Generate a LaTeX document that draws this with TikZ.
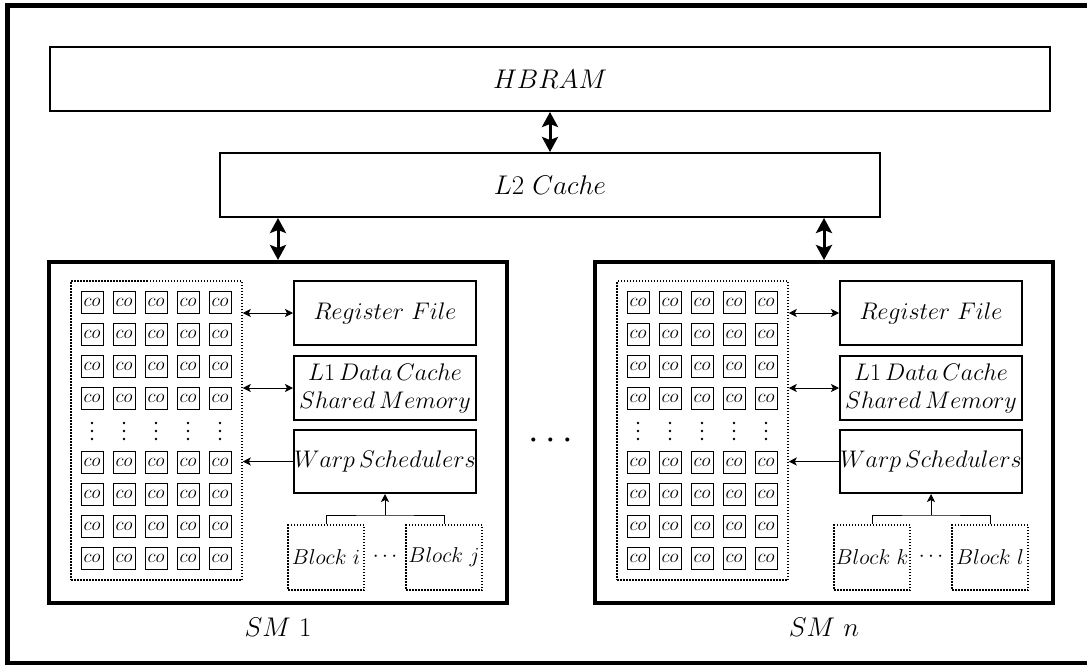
\RequirePackage{fix-cm}
\documentclass[tikz,border=0pt]{standalone}
\usetikzlibrary{arrows.meta}

% One streaming multiprocessor: #1 name prefix, #2/#3 block labels, #4 caption
\newcommand\smunit[4]{%
  \node[smbox, minimum width=458pt, minimum height=341pt] (#1box) at (278,432.5) {};
  \node[dotbox, minimum width=171pt, minimum height=299pt] (#1cores) at (156.5,430.5) {};
  \foreach \c in {0,...,4} {
    \foreach \y in {302,334,366,398,462,494,526,558}
      \node[core] (#1co-\c-\y) at ({92+32*\c},\y) {$co$};
    \foreach \d in {-8,0,8}
      \fill ({92+32*\c},{431+\d}) circle (1.4pt);
  }
  \node[unitbox, minimum height=64pt] (#1reg) at (385,313) {$Register\ File$};
  \node[unitbox, minimum height=64pt] (#1l1) at (385,388) {$L1\,Data\,Cache$\\[-2pt]$Shared\,Memory$};
  \node[unitbox, minimum height=63pt] (#1warp) at (385,461.5) {$Warp\,Schedulers$};
  \draw[linkarrow, <->] (#1cores.east |- #1reg) -- (#1reg.west);
  \draw[linkarrow, <->] (#1cores.east |- #1l1) -- (#1l1.west);
  \draw[linkarrow, ->] (#1warp.west) -- (#1cores.east |- #1warp);
  \node[blockbox] (#1bl) at (326,557.5) {$#2$};
  \node[blockbox] (#1br) at (444,557.5) {$#3$};
  \node[font=\fontsize{21}{24}\selectfont, inner sep=0pt] (#1bdots) at (385,557) {$\cdots$};
  \coordinate (#1fork) at (385,515);
  \draw[line width=1pt] (#1bl.north) |- (#1fork) -| (#1br.north);
  \draw[linkarrow, ->] (#1fork) -- (#1warp.south);
  \node[font=\fontsize{27}{32}\selectfont] (#1label) at (278,627) {$#4$};
}

\begin{document}
\begin{tikzpicture}[x=1pt, y=-1pt,
  frame/.style={line width=5pt},
  membox/.style={draw, line width=2pt, inner sep=0pt, font=\fontsize{27}{32}\selectfont},
  smbox/.style={draw, line width=4pt, inner sep=0pt},
  unitbox/.style={draw, line width=2pt, inner sep=0pt, minimum width=182pt,
    font=\fontsize{24}{30}\selectfont, align=center},
  core/.style={draw, line width=1pt, minimum size=22pt, inner sep=0pt,
    font=\fontsize{19}{19}\selectfont},
  dotbox/.style={draw, line width=1.5pt, dash pattern=on 1.5pt off 1.5pt, inner sep=0pt},
  blockbox/.style={dotbox, minimum width=76pt, minimum height=65pt,
    font=\fontsize{21.5}{24}\selectfont},
  busarrow/.style={line width=3pt,
    {Stealth[length=15pt,width=16pt,inset=3pt]}-{Stealth[length=15pt,width=16pt,inset=3pt]}},
  linkarrow/.style={line width=1pt, >={Stealth[length=8pt,width=8pt,inset=2pt]}},
  ]
\useasboundingbox (0,0) rectangle (1087,664);

% outer frame
\begin{scope}
  \clip (0,0) rectangle (1087,664);
  \draw[frame] (7.5,5) rectangle (1100,663.5);
\end{scope}

% memory hierarchy
\node[membox, minimum width=1000pt, minimum height=64pt] (hbram) at (550,79) {$HBRAM$};
\node[membox, minimum width=660pt, minimum height=64pt] (l2) at (550,185) {$L2\ Cache$};
\draw[busarrow] (hbram) -- (l2);

% streaming multiprocessors
\smunit{a}{Block\ i}{Block\ j}{SM\ 1}
\begin{scope}[xshift=546pt]
  \smunit{n}{Block\ k}{Block\ l}{SM\ n}
\end{scope}

\draw[busarrow] (l2.south -| abox.north) -- (abox.north);
\draw[busarrow] (l2.south -| nbox.north) -- (nbox.north);

\node[font=\fontsize{38}{40}\selectfont, inner sep=0pt] (smdots) at (551,441) {$\cdots$};
\end{tikzpicture}
\end{document}
